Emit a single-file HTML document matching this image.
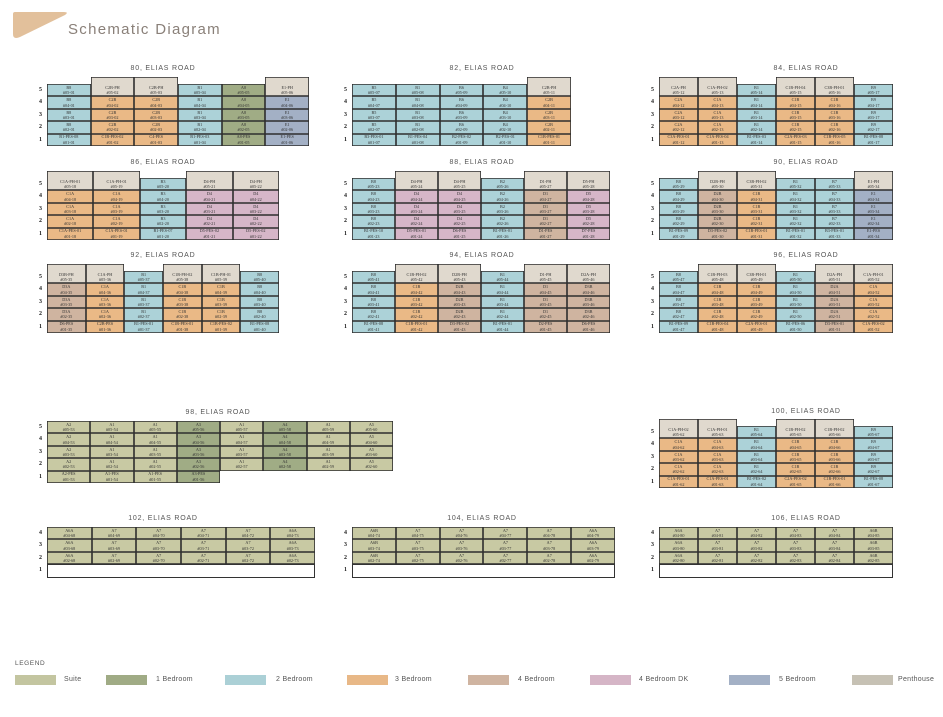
<!DOCTYPE html>
<html><head><meta charset="utf-8">
<style>
body{margin:0;width:943px;height:717px;background:#fff;position:relative;overflow:hidden;font-family:"Liberation Sans",sans-serif}
.logo{position:absolute;left:0;top:0}
.title{position:absolute;left:68px;top:21px;font-size:15px;letter-spacing:1.3px;color:#8a8079}
.lbl{position:absolute;font-size:7px;letter-spacing:0.8px;color:#555;transform:translateX(-50%);white-space:nowrap}
.b{position:absolute;display:grid;grid-auto-rows:12.4px}
.b i{font-style:normal;font-family:"Liberation Serif",serif;font-size:4.2px;line-height:5.4px;color:#333;text-align:center;box-shadow:inset 0 0 0 0.8px #2e2e2e;padding-top:0.8px;box-sizing:border-box;overflow:hidden;white-space:nowrap}
.b i b{display:block;font-weight:normal}
.b i.p{margin-top:-7px;padding-top:7.8px;background:#e0d9ce}
.s{background:#c8c9a3}.o{background:#a0ac85}.t{background:#acd2d8}.h{background:#eab986}
.f{background:#cfb4a0}.k{background:#d6b6c8}.v{background:#a3b0c5}
.b i.e{grid-column:1/-1;background:#fff;height:14px;box-shadow:inset 0 0 0 1px #333}
.fl{position:absolute;display:grid;grid-auto-rows:12.4px;font-family:"Liberation Serif",serif;font-size:6px;font-weight:bold;color:#222;line-height:12.4px}
.leg{position:absolute;font-size:7px;color:#555;letter-spacing:0.3px}
.sw{position:absolute;top:675px;width:41px;height:10px}
</style></head><body>
<svg class="logo" width="80" height="45"><path d="M15 12 L64 12 Q69 12 65 15 L20 37 Q13 40 13 34 L13 14 Q13 12 15 12 Z" fill="#e2c09b"/></svg>
<div class="title">Schematic Diagram</div>

<!-- 80 -->
<div class="lbl" style="left:163px;top:65px">80, ELIAS ROAD</div>
<div class="fl" style="left:39px;top:84px"><span>5</span><span>4</span><span>3</span><span>2</span><span>1</span></div>
<div class="b" style="left:47px;top:84px;width:262px;grid-template-columns:repeat(6,1fr)">
<i class="t">B8<b>#05-01</b></i><i class="p">C2B-PH<b>#05-02</b></i><i class="p">C2B-PH<b>#05-03</b></i><i class="t">B1<b>#05-04</b></i><i class="o">A8<b>#05-05</b></i><i class="p">E1-PH<b>#05-06</b></i>
<i class="t">B8<b>#04-01</b></i><i class="h">C2B<b>#04-02</b></i><i class="h">C2B<b>#04-03</b></i><i class="t">B1<b>#04-04</b></i><i class="o">A8<b>#04-05</b></i><i class="v">E1<b>#04-06</b></i>
<i class="t">B8<b>#03-01</b></i><i class="h">C2B<b>#03-02</b></i><i class="h">C2B<b>#03-03</b></i><i class="t">B1<b>#03-04</b></i><i class="o">A8<b>#03-05</b></i><i class="v">E1<b>#03-06</b></i>
<i class="t">B8<b>#02-01</b></i><i class="h">C2B<b>#02-02</b></i><i class="h">C2B<b>#02-03</b></i><i class="t">B1<b>#02-04</b></i><i class="o">A8<b>#02-05</b></i><i class="v">E1<b>#02-06</b></i>
<i class="t">B1-PES-08<b>#01-01</b></i><i class="h">C1B-PES-02<b>#01-02</b></i><i class="h">C4-PES<b>#01-03</b></i><i class="t">B1-PES-03<b>#01-04</b></i><i class="o">A8-PES<b>#01-05</b></i><i class="v">E1-PES<b>#01-06</b></i>
</div>

<!-- 82 -->
<div class="lbl" style="left:482px;top:65px">82, ELIAS ROAD</div>
<div class="fl" style="left:344px;top:84px"><span>5</span><span>4</span><span>3</span><span>2</span><span>1</span></div>
<div class="b" style="left:352px;top:84px;width:219px;grid-template-columns:repeat(5,1fr)">
<i class="t">B5<b>#05-07</b></i><i class="t">B1<b>#05-08</b></i><i class="t">B6<b>#05-09</b></i><i class="t">B4<b>#05-10</b></i><i class="p">C2B-PH<b>#05-11</b></i>
<i class="t">B5<b>#04-07</b></i><i class="t">B1<b>#04-08</b></i><i class="t">B6<b>#04-09</b></i><i class="t">B4<b>#04-10</b></i><i class="h">C2B<b>#04-11</b></i>
<i class="t">B5<b>#03-07</b></i><i class="t">B1<b>#03-08</b></i><i class="t">B6<b>#03-09</b></i><i class="t">B4<b>#03-10</b></i><i class="h">C2B<b>#03-11</b></i>
<i class="t">B5<b>#02-07</b></i><i class="t">B1<b>#02-08</b></i><i class="t">B6<b>#02-09</b></i><i class="t">B4<b>#02-10</b></i><i class="h">C2B<b>#02-11</b></i>
<i class="t">B3-PES-01<b>#01-07</b></i><i class="t">B1-PES-04<b>#01-08</b></i><i class="t">B2-PES-02<b>#01-09</b></i><i class="t">B2-PES-01<b>#01-10</b></i><i class="h">C1B-PES-01<b>#01-11</b></i>
</div>

<!-- 84 -->
<div class="lbl" style="left:806px;top:65px">84, ELIAS ROAD</div>
<div class="fl" style="left:651px;top:84px"><span>5</span><span>4</span><span>3</span><span>2</span><span>1</span></div>
<div class="b" style="left:659px;top:84px;width:234px;grid-template-columns:repeat(6,1fr)">
<i class="p">C2A-PH<b>#05-12</b></i><i class="p">C1A-PH-02<b>#05-13</b></i><i class="t">B1<b>#05-14</b></i><i class="p">C1B-PH-04<b>#05-15</b></i><i class="p">C3B-PH-01<b>#05-16</b></i><i class="t">B9<b>#05-17</b></i>
<i class="h">C2A<b>#04-12</b></i><i class="h">C1A<b>#04-13</b></i><i class="t">B1<b>#04-14</b></i><i class="h">C1B<b>#04-15</b></i><i class="h">C1B<b>#04-16</b></i><i class="t">B9<b>#04-17</b></i>
<i class="h">C2A<b>#03-12</b></i><i class="h">C1A<b>#03-13</b></i><i class="t">B1<b>#03-14</b></i><i class="h">C1B<b>#03-15</b></i><i class="h">C1B<b>#03-16</b></i><i class="t">B9<b>#03-17</b></i>
<i class="h">C2A<b>#02-12</b></i><i class="h">C1A<b>#02-13</b></i><i class="t">B1<b>#02-14</b></i><i class="h">C1B<b>#02-15</b></i><i class="h">C1B<b>#02-16</b></i><i class="t">B9<b>#02-17</b></i>
<i class="h">C3A-PES-01<b>#01-12</b></i><i class="h">C1A-PES-04<b>#01-13</b></i><i class="t">B1-PES-03<b>#01-14</b></i><i class="h">C2A-PES-03<b>#01-15</b></i><i class="h">C1B-PES-05<b>#01-16</b></i><i class="t">B1-PES-08<b>#01-17</b></i>
</div>

<!-- 86 -->
<div class="lbl" style="left:163px;top:159px">86, ELIAS ROAD</div>
<div class="fl" style="left:39px;top:178px"><span>5</span><span>4</span><span>3</span><span>2</span><span>1</span></div>
<div class="b" style="left:47px;top:178px;width:232px;grid-template-columns:repeat(5,1fr)">
<i class="p">C1A-PH-01<b>#05-18</b></i><i class="p">C1A-PH-01<b>#05-19</b></i><i class="t">B3<b>#05-20</b></i><i class="p">D4-PH<b>#05-21</b></i><i class="p">D4-PH<b>#05-22</b></i>
<i class="h">C1A<b>#04-18</b></i><i class="h">C1A<b>#04-19</b></i><i class="t">B3<b>#04-20</b></i><i class="k">D4<b>#04-21</b></i><i class="k">D4<b>#04-22</b></i>
<i class="h">C1A<b>#03-18</b></i><i class="h">C1A<b>#03-19</b></i><i class="t">B3<b>#03-20</b></i><i class="k">D4<b>#03-21</b></i><i class="k">D4<b>#03-22</b></i>
<i class="h">C1A<b>#02-18</b></i><i class="h">C1A<b>#02-19</b></i><i class="t">B3<b>#02-20</b></i><i class="k">D4<b>#02-21</b></i><i class="k">D4<b>#02-22</b></i>
<i class="h">C1A-PES-01<b>#01-18</b></i><i class="h">C1A-PES-01<b>#01-19</b></i><i class="t">B1-PES-07<b>#01-20</b></i><i class="k">D5-PES-02<b>#01-21</b></i><i class="k">D5-PES-02<b>#01-22</b></i>
</div>

<!-- 88 -->
<div class="lbl" style="left:482px;top:159px">88, ELIAS ROAD</div>
<div class="fl" style="left:344px;top:178px"><span>5</span><span>4</span><span>3</span><span>2</span><span>1</span></div>
<div class="b" style="left:352px;top:178px;width:258px;grid-template-columns:repeat(6,1fr)">
<i class="t">B8<b>#05-23</b></i><i class="p">D4-PH<b>#05-24</b></i><i class="p">D4-PH<b>#05-25</b></i><i class="t">B2<b>#05-26</b></i><i class="p">D1-PH<b>#05-27</b></i><i class="p">D5-PH<b>#05-28</b></i>
<i class="t">B8<b>#04-23</b></i><i class="k">D4<b>#04-24</b></i><i class="k">D4<b>#04-25</b></i><i class="t">B2<b>#04-26</b></i><i class="f">D1<b>#04-27</b></i><i class="k">D5<b>#04-28</b></i>
<i class="t">B8<b>#03-23</b></i><i class="k">D4<b>#03-24</b></i><i class="k">D4<b>#03-25</b></i><i class="t">B2<b>#03-26</b></i><i class="f">D1<b>#03-27</b></i><i class="k">D5<b>#03-28</b></i>
<i class="t">B8<b>#02-23</b></i><i class="k">D4<b>#02-24</b></i><i class="k">D4<b>#02-25</b></i><i class="t">B2<b>#02-26</b></i><i class="f">D1<b>#02-27</b></i><i class="k">D5<b>#02-28</b></i>
<i class="t">B1-PES-10<b>#01-23</b></i><i class="k">D5-PES-01<b>#01-24</b></i><i class="k">D6-PES<b>#01-25</b></i><i class="t">B1-PES-01<b>#01-26</b></i><i class="f">D1-PES<b>#01-27</b></i><i class="k">D7-PES<b>#01-28</b></i>
</div>

<!-- 90 -->
<div class="lbl" style="left:806px;top:159px">90, ELIAS ROAD</div>
<div class="fl" style="left:651px;top:178px"><span>5</span><span>4</span><span>3</span><span>2</span><span>1</span></div>
<div class="b" style="left:659px;top:178px;width:234px;grid-template-columns:repeat(6,1fr)">
<i class="t">B8<b>#05-29</b></i><i class="p">D2B-PH<b>#05-30</b></i><i class="p">C3B-PH-02<b>#05-31</b></i><i class="t">B1<b>#05-32</b></i><i class="t">B7<b>#05-33</b></i><i class="p">E1-PH<b>#05-34</b></i>
<i class="t">B8<b>#04-29</b></i><i class="f">D2B<b>#04-30</b></i><i class="h">C1B<b>#04-31</b></i><i class="t">B1<b>#04-32</b></i><i class="t">B7<b>#04-33</b></i><i class="v">E1<b>#04-34</b></i>
<i class="t">B8<b>#03-29</b></i><i class="f">D2B<b>#03-30</b></i><i class="h">C1B<b>#03-31</b></i><i class="t">B1<b>#03-32</b></i><i class="t">B7<b>#03-33</b></i><i class="v">E1<b>#03-34</b></i>
<i class="t">B8<b>#02-29</b></i><i class="f">D2B<b>#02-30</b></i><i class="h">C1B<b>#02-31</b></i><i class="t">B1<b>#02-32</b></i><i class="t">B7<b>#02-33</b></i><i class="v">E1<b>#02-34</b></i>
<i class="t">B1-PES-09<b>#01-29</b></i><i class="f">D3-PES-02<b>#01-30</b></i><i class="h">C1B-PES-01<b>#01-31</b></i><i class="t">B1-PES-01<b>#01-32</b></i><i class="t">B3-PES-01<b>#01-33</b></i><i class="v">E1-PES<b>#01-34</b></i>
</div>

<!-- 92 -->
<div class="lbl" style="left:163px;top:252px">92, ELIAS ROAD</div>
<div class="fl" style="left:39px;top:271px"><span>5</span><span>4</span><span>3</span><span>2</span><span>1</span></div>
<div class="b" style="left:47px;top:271px;width:232px;grid-template-columns:repeat(6,1fr)">
<i class="p">D3B-PH<b>#05-35</b></i><i class="p">C1A-PH<b>#05-36</b></i><i class="t">B1<b>#05-37</b></i><i class="p">C1B-PH-02<b>#05-38</b></i><i class="p">C1B-PH-01<b>#05-39</b></i><i class="t">B8<b>#05-40</b></i>
<i class="f">D3A<b>#04-35</b></i><i class="h">C1A<b>#04-36</b></i><i class="t">B1<b>#04-37</b></i><i class="h">C1B<b>#04-38</b></i><i class="h">C1B<b>#04-39</b></i><i class="t">B8<b>#04-40</b></i>
<i class="f">D3A<b>#03-35</b></i><i class="h">C1A<b>#03-36</b></i><i class="t">B1<b>#03-37</b></i><i class="h">C1B<b>#03-38</b></i><i class="h">C1B<b>#03-39</b></i><i class="t">B8<b>#03-40</b></i>
<i class="f">D3A<b>#02-35</b></i><i class="h">C1A<b>#02-36</b></i><i class="t">B1<b>#02-37</b></i><i class="h">C1B<b>#02-38</b></i><i class="h">C1B<b>#02-39</b></i><i class="t">B8<b>#02-40</b></i>
<i class="f">D6-PES<b>#01-35</b></i><i class="h">C2B-PES<b>#01-36</b></i><i class="t">B1-PES-01<b>#01-37</b></i><i class="h">C1B-PES-01<b>#01-38</b></i><i class="h">C1B-PES-02<b>#01-39</b></i><i class="t">B1-PES-08<b>#01-40</b></i>
</div>

<!-- 94 -->
<div class="lbl" style="left:482px;top:252px">94, ELIAS ROAD</div>
<div class="fl" style="left:344px;top:271px"><span>5</span><span>4</span><span>3</span><span>2</span><span>1</span></div>
<div class="b" style="left:352px;top:271px;width:258px;grid-template-columns:repeat(6,1fr)">
<i class="t">B8<b>#05-41</b></i><i class="p">C1B-PH-02<b>#05-42</b></i><i class="p">D2B-PH<b>#05-43</b></i><i class="t">B1<b>#05-44</b></i><i class="p">D1-PH<b>#05-45</b></i><i class="p">D2A-PH<b>#05-46</b></i>
<i class="t">B8<b>#04-41</b></i><i class="h">C1B<b>#04-42</b></i><i class="f">D2B<b>#04-43</b></i><i class="t">B1<b>#04-44</b></i><i class="f">D1<b>#04-45</b></i><i class="f">D3B<b>#04-46</b></i>
<i class="t">B8<b>#03-41</b></i><i class="h">C1B<b>#03-42</b></i><i class="f">D2B<b>#03-43</b></i><i class="t">B1<b>#03-44</b></i><i class="f">D1<b>#03-45</b></i><i class="f">D3B<b>#03-46</b></i>
<i class="t">B8<b>#02-41</b></i><i class="h">C1B<b>#02-42</b></i><i class="f">D2B<b>#02-43</b></i><i class="t">B1<b>#02-44</b></i><i class="f">D1<b>#02-45</b></i><i class="f">D3B<b>#02-46</b></i>
<i class="t">B1-PES-08<b>#01-41</b></i><i class="h">C1B-PES-01<b>#01-42</b></i><i class="f">D3-PES-02<b>#01-43</b></i><i class="t">B1-PES-01<b>#01-44</b></i><i class="f">D2-PES<b>#01-45</b></i><i class="f">D6-PES<b>#01-46</b></i>
</div>

<!-- 96 -->
<div class="lbl" style="left:806px;top:252px">96, ELIAS ROAD</div>
<div class="fl" style="left:651px;top:271px"><span>5</span><span>4</span><span>3</span><span>2</span><span>1</span></div>
<div class="b" style="left:659px;top:271px;width:234px;grid-template-columns:repeat(6,1fr)">
<i class="t">B8<b>#05-47</b></i><i class="p">C1B-PH-03<b>#05-48</b></i><i class="p">C3B-PH-01<b>#05-49</b></i><i class="t">B1<b>#05-50</b></i><i class="p">D2A-PH<b>#05-51</b></i><i class="p">C1A-PH-01<b>#05-52</b></i>
<i class="t">B8<b>#04-47</b></i><i class="h">C1B<b>#04-48</b></i><i class="h">C1B<b>#04-49</b></i><i class="t">B1<b>#04-50</b></i><i class="f">D2A<b>#04-51</b></i><i class="h">C1A<b>#04-52</b></i>
<i class="t">B8<b>#03-47</b></i><i class="h">C1B<b>#03-48</b></i><i class="h">C1B<b>#03-49</b></i><i class="t">B1<b>#03-50</b></i><i class="f">D2A<b>#03-51</b></i><i class="h">C1A<b>#03-52</b></i>
<i class="t">B8<b>#02-47</b></i><i class="h">C1B<b>#02-48</b></i><i class="h">C1B<b>#02-49</b></i><i class="t">B1<b>#02-50</b></i><i class="f">D2A<b>#02-51</b></i><i class="h">C1A<b>#02-52</b></i>
<i class="t">B1-PES-09<b>#01-47</b></i><i class="h">C1B-PES-04<b>#01-48</b></i><i class="h">C2A-PES-01<b>#01-49</b></i><i class="t">B1-PES-06<b>#01-50</b></i><i class="f">D3-PES-01<b>#01-51</b></i><i class="h">C1A-PES-02<b>#01-52</b></i>
</div>

<!-- 98 -->
<div class="lbl" style="left:218px;top:409px">98, ELIAS ROAD</div>
<div class="fl" style="left:39px;top:421px"><span>5</span><span>4</span><span>3</span><span>2</span><span>1</span></div>
<div class="b" style="left:47px;top:421px;width:346px;grid-template-columns:repeat(8,1fr)">
<i class="s">A2<b>#05-53</b></i><i class="s">A1<b>#05-54</b></i><i class="s">A1<b>#05-55</b></i><i class="o">A3<b>#05-56</b></i><i class="s">A1<b>#05-57</b></i><i class="o">A4<b>#05-58</b></i><i class="s">A1<b>#05-59</b></i><i class="s">A5<b>#05-60</b></i>
<i class="s">A2<b>#04-53</b></i><i class="s">A1<b>#04-54</b></i><i class="s">A1<b>#04-55</b></i><i class="o">A3<b>#04-56</b></i><i class="s">A1<b>#04-57</b></i><i class="o">A4<b>#04-58</b></i><i class="s">A1<b>#04-59</b></i><i class="s">A5<b>#04-60</b></i>
<i class="s">A2<b>#03-53</b></i><i class="s">A1<b>#03-54</b></i><i class="s">A1<b>#03-55</b></i><i class="o">A3<b>#03-56</b></i><i class="s">A1<b>#03-57</b></i><i class="o">A4<b>#03-58</b></i><i class="s">A1<b>#03-59</b></i><i class="s">A5<b>#03-60</b></i>
<i class="s">A2<b>#02-53</b></i><i class="s">A1<b>#02-54</b></i><i class="s">A1<b>#02-55</b></i><i class="o">A3<b>#02-56</b></i><i class="s">A1<b>#02-57</b></i><i class="o">A4<b>#02-58</b></i><i class="s">A1<b>#02-59</b></i><i class="s">A5<b>#02-60</b></i>
<i class="s">A2-PES<b>#01-53</b></i><i class="s">A1-PES<b>#01-54</b></i><i class="s">A1-PES<b>#01-55</b></i><i class="o">A3-PES<b>#01-56</b></i>
</div>

<!-- 100 -->
<div class="lbl" style="left:806px;top:408px">100, ELIAS ROAD</div>
<div class="fl" style="left:651px;top:426px"><span>5</span><span>4</span><span>3</span><span>2</span><span>1</span></div>
<div class="b" style="left:659px;top:426px;width:234px;grid-template-columns:repeat(6,1fr)">
<i class="p">C1A-PH-02<b>#05-62</b></i><i class="p">C1A-PH-01<b>#05-63</b></i><i class="t">B1<b>#05-64</b></i><i class="p">C1B-PH-02<b>#05-65</b></i><i class="p">C1B-PH-02<b>#05-66</b></i><i class="t">B9<b>#05-67</b></i>
<i class="h">C1A<b>#04-62</b></i><i class="h">C1A<b>#04-63</b></i><i class="t">B1<b>#04-64</b></i><i class="h">C1B<b>#04-65</b></i><i class="h">C1B<b>#04-66</b></i><i class="t">B9<b>#04-67</b></i>
<i class="h">C1A<b>#03-62</b></i><i class="h">C1A<b>#03-63</b></i><i class="t">B1<b>#03-64</b></i><i class="h">C1B<b>#03-65</b></i><i class="h">C1B<b>#03-66</b></i><i class="t">B9<b>#03-67</b></i>
<i class="h">C1A<b>#02-62</b></i><i class="h">C1A<b>#02-63</b></i><i class="t">B1<b>#02-64</b></i><i class="h">C1B<b>#02-65</b></i><i class="h">C1B<b>#02-66</b></i><i class="t">B9<b>#02-67</b></i>
<i class="h">C1A-PES-01<b>#01-62</b></i><i class="h">C1A-PES-01<b>#01-63</b></i><i class="t">B1-PES-02<b>#01-64</b></i><i class="h">C2A-PES-02<b>#01-65</b></i><i class="h">C1B-PES-01<b>#01-66</b></i><i class="t">B1-PES-08<b>#01-67</b></i>
</div>

<!-- 102 -->
<div class="lbl" style="left:163px;top:515px">102, ELIAS ROAD</div>
<div class="fl" style="left:39px;top:527px"><span>4</span><span>3</span><span>2</span><span>1</span></div>
<div class="b" style="left:47px;top:527px;width:268px;grid-template-columns:repeat(6,1fr)">
<i class="s">A6A<b>#04-68</b></i><i class="s">A7<b>#04-69</b></i><i class="s">A7<b>#04-70</b></i><i class="s">A7<b>#04-71</b></i><i class="s">A7<b>#04-72</b></i><i class="s">A6A<b>#04-73</b></i>
<i class="s">A6A<b>#03-68</b></i><i class="s">A7<b>#03-69</b></i><i class="s">A7<b>#03-70</b></i><i class="s">A7<b>#03-71</b></i><i class="s">A7<b>#03-72</b></i><i class="s">A6A<b>#03-73</b></i>
<i class="s">A6A<b>#02-68</b></i><i class="s">A7<b>#02-69</b></i><i class="s">A7<b>#02-70</b></i><i class="s">A7<b>#02-71</b></i><i class="s">A7<b>#02-72</b></i><i class="s">A6A<b>#02-73</b></i>
<i class="e"></i>
</div>

<!-- 104 -->
<div class="lbl" style="left:482px;top:515px">104, ELIAS ROAD</div>
<div class="fl" style="left:344px;top:527px"><span>4</span><span>3</span><span>2</span><span>1</span></div>
<div class="b" style="left:352px;top:527px;width:263px;grid-template-columns:repeat(6,1fr)">
<i class="s">A6B<b>#04-74</b></i><i class="s">A7<b>#04-75</b></i><i class="s">A7<b>#04-76</b></i><i class="s">A7<b>#04-77</b></i><i class="s">A7<b>#04-78</b></i><i class="s">A6A<b>#04-79</b></i>
<i class="s">A6B<b>#03-74</b></i><i class="s">A7<b>#03-75</b></i><i class="s">A7<b>#03-76</b></i><i class="s">A7<b>#03-77</b></i><i class="s">A7<b>#03-78</b></i><i class="s">A6A<b>#03-79</b></i>
<i class="s">A6B<b>#02-74</b></i><i class="s">A7<b>#02-75</b></i><i class="s">A7<b>#02-76</b></i><i class="s">A7<b>#02-77</b></i><i class="s">A7<b>#02-78</b></i><i class="s">A6A<b>#02-79</b></i>
<i class="e"></i>
</div>

<!-- 106 -->
<div class="lbl" style="left:806px;top:515px">106, ELIAS ROAD</div>
<div class="fl" style="left:651px;top:527px"><span>4</span><span>3</span><span>2</span><span>1</span></div>
<div class="b" style="left:659px;top:527px;width:234px;grid-template-columns:repeat(6,1fr)">
<i class="s">A6A<b>#04-80</b></i><i class="s">A7<b>#04-81</b></i><i class="s">A7<b>#04-82</b></i><i class="s">A7<b>#04-83</b></i><i class="s">A7<b>#04-84</b></i><i class="s">A6B<b>#04-85</b></i>
<i class="s">A6A<b>#03-80</b></i><i class="s">A7<b>#03-81</b></i><i class="s">A7<b>#03-82</b></i><i class="s">A7<b>#03-83</b></i><i class="s">A7<b>#03-84</b></i><i class="s">A6B<b>#03-85</b></i>
<i class="s">A6A<b>#02-80</b></i><i class="s">A7<b>#02-81</b></i><i class="s">A7<b>#02-82</b></i><i class="s">A7<b>#02-83</b></i><i class="s">A7<b>#02-84</b></i><i class="s">A6B<b>#02-85</b></i>
<i class="e"></i>
</div>

<!-- Legend -->
<div class="leg" style="left:15px;top:660px;font-size:6.5px;letter-spacing:0.6px">LEGEND</div>
<div class="sw" style="left:15px;background:#c3c5a0"></div><div class="leg" style="left:64px;top:676px">Suite</div>
<div class="sw" style="left:106px;background:#a0ab85"></div><div class="leg" style="left:156px;top:676px">1 Bedroom</div>
<div class="sw" style="left:225px;background:#abd0d6"></div><div class="leg" style="left:276px;top:676px">2 Bedroom</div>
<div class="sw" style="left:347px;background:#e8b887"></div><div class="leg" style="left:395px;top:676px">3 Bedroom</div>
<div class="sw" style="left:468px;background:#cfb4a1"></div><div class="leg" style="left:518px;top:676px">4 Bedroom</div>
<div class="sw" style="left:590px;background:#d5b5c6"></div><div class="leg" style="left:639px;top:676px">4 Bedroom DK</div>
<div class="sw" style="left:729px;background:#a3b0c5"></div><div class="leg" style="left:779px;top:676px">5 Bedroom</div>
<div class="sw" style="left:852px;background:#c6c1b4"></div><div class="leg" style="left:898px;top:676px">Penthouse</div>
</body></html>
